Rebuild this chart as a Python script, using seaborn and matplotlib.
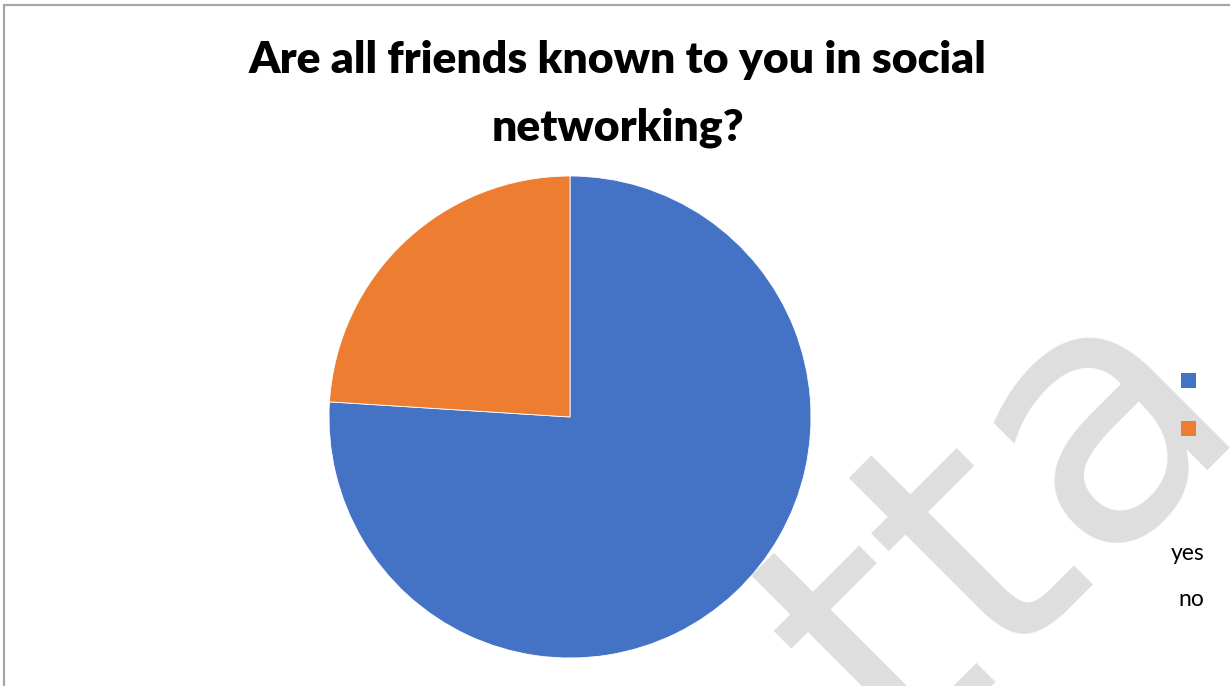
import matplotlib
matplotlib.use("Agg")
import matplotlib.pyplot as plt
from matplotlib.patches import Rectangle
from matplotlib.lines import Line2D
import seaborn as sns

# Survey answers (percent of respondents)
answers = ["yes", "no"]
shares = [76, 24]
slice_colors = ["#4472C4", "#ED7D31"]
title_lines = ["Are all friends known to you in social", "networking?"]

sns.set_theme(style="white")
plt.rcParams["font.family"] = ["Lato", "DejaVu Sans"]

W, H = 1230, 686
fig = plt.figure(figsize=(W / 100, H / 100), dpi=100)
fig.patch.set_facecolor("white")

def fx(px):
    return px / W

def fy(py):
    return 1 - py / H

# light background lettering
fig.text(fx(1007), fy(524), "tta", rotation=45, ha="center", va="center",
         fontsize=255, color="#DEDEDE", zorder=-1,
         family=["DejaVu Sans"])

# chart frame (top and left edges visible)
fig.add_artist(Line2D([fx(4), fx(4)], [fy(5), 0], transform=fig.transFigure,
                      color="#A6A6A6", lw=1.6))
fig.add_artist(Line2D([fx(4), 1], [fy(5), fy(5)], transform=fig.transFigure,
                      color="#A6A6A6", lw=1.6))

# title
fig.text(fx(618), fy(73), title_lines[0], ha="center", va="baseline",
         fontsize=32, fontweight="heavy", color="black")
fig.text(fx(618), fy(140), title_lines[1], ha="center", va="baseline",
         fontsize=32, fontweight="heavy", color="black")

# pie
cx, cy, r = 570, 417, 241
ax = fig.add_axes([fx(cx - r), fy(cy + r), (2 * r) / W, (2 * r) / H])
wedges, _ = ax.pie(shares, colors=slice_colors, startangle=90,
                   counterclock=False, radius=1.0,
                   wedgeprops=dict(edgecolor="white", linewidth=0.6))
ax.set_xlim(-1, 1)
ax.set_ylim(-1, 1)
ax.set_aspect("equal")
ax.axis("off")

# legend markers and labels
sq = 15
for i, (lab, col) in enumerate(zip(answers, slice_colors)):
    ycen = 380 + i * 48
    fig.add_artist(Rectangle((fx(1188 - sq / 2), fy(ycen + sq / 2)), sq / W, sq / H,
                             transform=fig.transFigure, facecolor=col,
                             edgecolor="none", zorder=5))
fig.text(fx(1188), fy(553), answers[0], ha="center", va="center",
         fontsize=16.5, color="black", zorder=5)
fig.text(fx(1191), fy(600), answers[1], ha="center", va="center",
         fontsize=16.5, color="black", zorder=5)

fig.savefig("out.png", dpi=100, facecolor="white")
